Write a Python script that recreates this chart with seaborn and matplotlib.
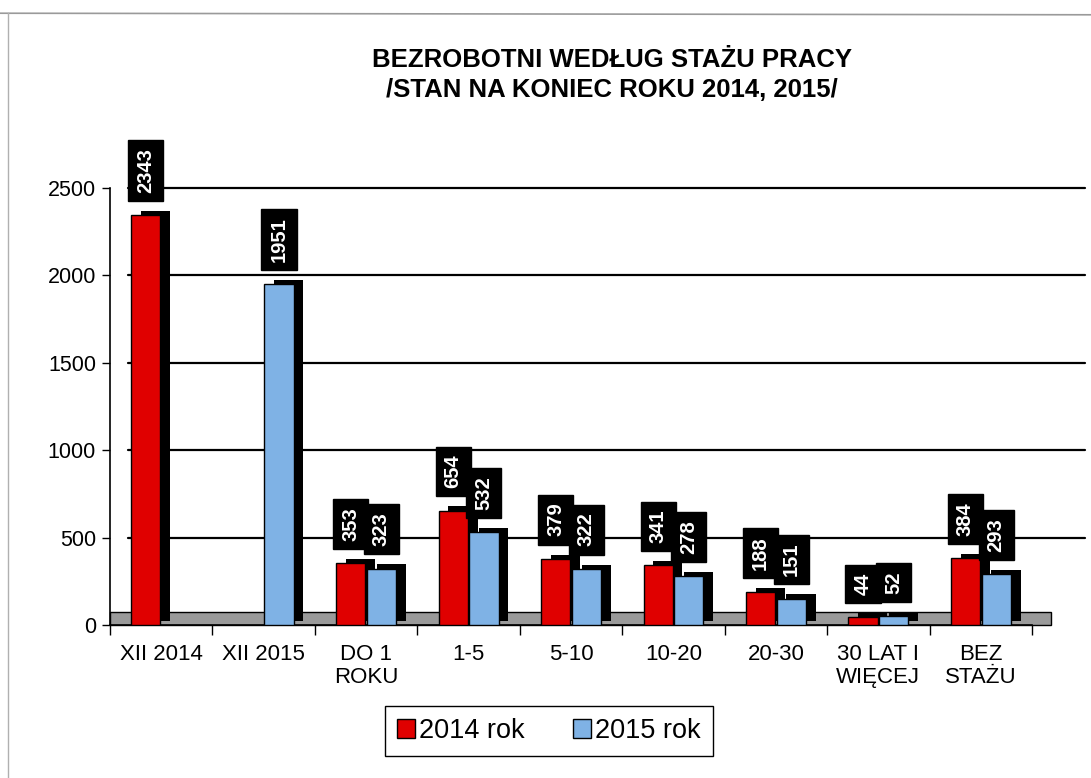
import pandas as pd
import matplotlib.pyplot as plt
import matplotlib.patheffects as pe
from matplotlib.lines import Line2D
import seaborn as sns
import numpy as np

# Data
categories = ['XII 2014', 'XII 2015', 'DO 1\nROKU', '1-5', '5-10', '10-20',
              '20-30', '30 LAT I\nWIĘCEJ', 'BEZ\nSTAŻU']
rok_2014 = [2343, np.nan, 353, 654, 379, 341, 188, 44, 384]
rok_2015 = [np.nan, 1951, 323, 532, 322, 278, 151, 52, 293]
series = ['2014 rok', '2015 rok']
colors = ['#e00000', '#7fb2e5']
y_ticks = [0, 500, 1000, 1500, 2000, 2500]

df = pd.DataFrame({
    'kategoria': categories * 2,
    'rok': [series[0]] * len(categories) + [series[1]] * len(categories),
    'wartosc': rok_2014 + rok_2015,
})

sns.set_style('white')
plt.rcParams['font.family'] = ['Liberation Sans', 'DejaVu Sans']
plt.rcParams['text.color'] = 'black'
plt.rcParams['xtick.color'] = 'black'
plt.rcParams['ytick.color'] = 'black'

fig = plt.figure(figsize=(10.91, 7.78), dpi=100)
ax = fig.add_axes([0.1008, 0.1967, 0.8452, 0.5617])

sns.barplot(data=df, x='kategoria', y='wartosc', hue='rok', order=categories,
            hue_order=series, palette=colors, width=0.6, gap=0.05,
            edgecolor='black', linewidth=1, saturation=1, ax=ax)

# 3D-ish dark side on each bar, bars above the floor
for cont in ax.containers:
    for bar in cont:
        bar.set_zorder(3)
        bar.set_path_effects([pe.SimplePatchShadow(offset=(7, 3), shadow_rgbFace='black', alpha=1),
                              pe.Normal()])

# floor
ax.axhspan(0, 75, xmin=0, xmax=1.02, facecolor='#9a9a9a', edgecolor='black',
           linewidth=1, zorder=1, clip_on=False)

# grid lines stretching onto the back wall
for t in y_ticks[1:]:
    ax.axhline(t, xmin=0.02, xmax=1.057, color='black', linewidth=1.6, zorder=0, clip_on=False)

# data labels: black box, white rotated text
for cont in ax.containers:
    for bar in cont:
        h = bar.get_height()
        if np.isnan(h):
            continue
        ax.annotate(f'{h:.0f}', (bar.get_x() + bar.get_width() / 2, h),
                    xytext=(0, 16), textcoords='offset points', rotation=90,
                    ha='center', va='bottom', color='white', fontsize=14.5,
                    fontweight='bold', zorder=5,
                    bbox=dict(boxstyle='square,pad=0.4', facecolor='black', edgecolor='black'))

ax.set_ylim(0, 2500)
ax.set_xlim(-0.5, len(categories) - 0.5)
ax.set_yticks(y_ticks)
ax.tick_params(axis='y', labelsize=15.5, length=6, width=1, left=True, pad=4)
ax.tick_params(axis='x', labelsize=16, length=0, pad=14)
ax.set_xticks(range(len(categories)))
ax.set_xticklabels(categories, linespacing=1.1)
ax.set_xticks(np.arange(-0.5, len(categories)), minor=True)
ax.tick_params(axis='x', which='minor', length=7, width=1, bottom=True)
ax.set_xlabel('')
ax.set_ylabel('')
for s in ['top', 'right']:
    ax.spines[s].set_visible(False)
for s in ['left', 'bottom']:
    ax.spines[s].set_color('black')
    ax.spines[s].set_linewidth(1.2)

handles, labels = ax.get_legend_handles_labels()
ax.get_legend().remove()
fig.legend(handles, labels, loc='center', bbox_to_anchor=(0.503, 0.0604), ncol=2,
           fontsize=19.5, frameon=True, fancybox=False, edgecolor='black',
           handlelength=0.65, handleheight=0.65, handletextpad=0.15, columnspacing=1.8,
           borderpad=0.45, framealpha=1)

fig.text(0.561, 0.904, 'BEZROBOTNI WEDŁUG STAŻU PRACY\n/STAN NA KONIEC ROKU 2014, 2015/',
         ha='center', va='center', fontsize=18.5, fontweight='bold', linespacing=1.3)

# faint scan border of the chart area
fig.add_artist(Line2D([0.0, 1.0], [0.983, 0.981], color='#9a9a9a', linewidth=1.2))
fig.add_artist(Line2D([0.007, 0.007], [0.0, 0.983], color='#b0b0b0', linewidth=1.0))

fig.savefig('out.png', dpi=100)
plt.close(fig)
